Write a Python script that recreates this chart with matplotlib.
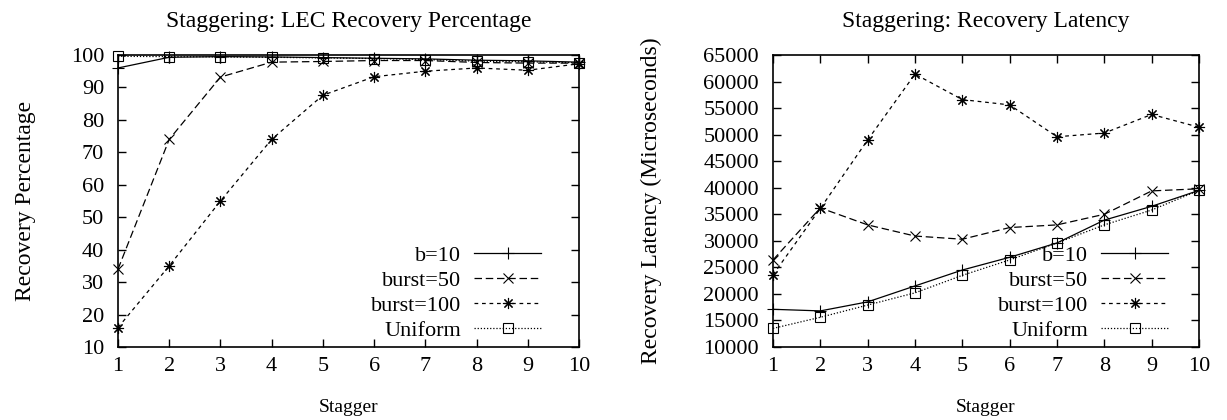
import matplotlib
matplotlib.use('Agg')
import matplotlib.pyplot as plt

plt.rcParams['font.family'] = ['Liberation Serif', 'DejaVu Serif']
plt.rcParams['font.size'] = 16

stagger = [1, 2, 3, 4, 5, 6, 7, 8, 9, 10]

# recovery percentage
pct_b10 = [96, 99.3, 99.5, 99.4, 99.2, 99.0, 98.8, 98.4, 98.2, 97.8]
pct_burst50 = [34, 74, 93.2, 97.8, 98.0, 98.3, 98.3, 97.7, 97.5, 97.5]
pct_burst100 = [16, 35, 55, 74, 87.6, 93.3, 95.0, 96.0, 95.3, 97.3]
pct_uniform = [99.6, 99.5, 99.4, 99.3, 99.1, 98.9, 98.6, 98.1, 97.9, 97.6]

# recovery latency (microseconds)
lat_b10 = [17100, 16800, 18500, 21500, 24500, 26900, 29600, 33900, 36500, 39500]
lat_burst50 = [26400, 36200, 33000, 30900, 30300, 32500, 33000, 35000, 39400, 39800]
lat_burst100 = [23600, 36100, 49000, 61400, 56600, 55600, 49600, 50300, 53800, 51400]
lat_uniform = [13500, 15600, 17900, 20200, 23500, 26400, 29600, 33000, 35800, 39500]

labels = ['b=10', 'burst=50', 'burst=100', 'Uniform']
styles = [
    dict(ls='-', marker='+', ms=8, mew=0.8),
    dict(ls=(0, (6, 3)), marker='x', ms=7, mew=0.8),
    dict(ls=(0, (3, 3)), marker=(8, 2, 0), ms=8, mew=0.8),
    dict(ls=(0, (1, 1.5)), marker='s', ms=6.5, mew=0.8, mfc='none'),
]

fig = plt.figure(figsize=(12.27, 4.2), dpi=100)
ax1 = fig.add_axes([118 / 1227, 73 / 420, 461 / 1227, 292 / 420])
ax2 = fig.add_axes([773 / 1227, 73 / 420, 426 / 1227, 292 / 420])


def setup(ax, title, ylabel, legx, ylpad):
    ax.set_title(title, fontsize=17, pad=20)
    ax.set_xlabel('Stagger', fontsize=14, labelpad=17)
    ax.set_ylabel(ylabel, fontsize=17, labelpad=ylpad)
    ax.set_xlim(1, 10)
    ax.set_xticks(stagger)
    ax.tick_params(direction='in', top=True, right=True, length=6, width=1, labelsize=16)
    ax.tick_params(axis='y', pad=10)
    ax.tick_params(axis='x', pad=7)
    for s in ax.spines.values():
        s.set_linewidth(1.2)
    ax.legend(loc='lower right', frameon=False, markerfirst=False, handlelength=3,
              handletextpad=0.6, labelspacing=0.2, fontsize=16,
              bbox_to_anchor=(legx, -0.01), borderaxespad=0)


for y, lab, st in zip([pct_b10, pct_burst50, pct_burst100, pct_uniform], labels, styles):
    ax1.plot(stagger, y, color='black', lw=0.9, label=lab, clip_on=False, **st)
ax1.set_ylim(10, 100)
ax1.set_yticks(range(10, 101, 10))
setup(ax1, 'Staggering: LEC Recovery Percentage', 'Recovery Percentage', 0.937, 25)

for y, lab, st in zip([lat_b10, lat_burst50, lat_burst100, lat_uniform], labels, styles):
    ax2.plot(stagger, y, color='black', lw=0.9, label=lab, clip_on=False, **st)
ax2.set_ylim(10000, 65000)
ax2.set_yticks(range(10000, 65001, 5000))
setup(ax2, 'Staggering: Recovery Latency', 'Recovery Latency (Microseconds)', 0.948, 30)

fig.savefig('out.png', dpi=100)
